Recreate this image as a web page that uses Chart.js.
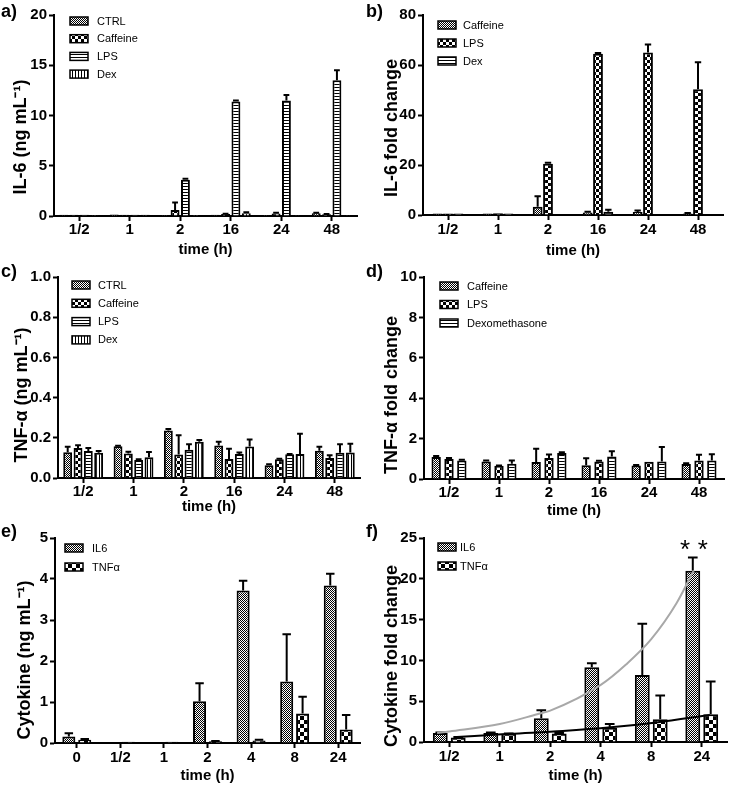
<!DOCTYPE html>
<html><head><meta charset="utf-8">
<script src="https://cdn.jsdelivr.net/npm/chart.js@4.4.0/dist/chart.umd.min.js"></script>
<style>
html,body{margin:0;padding:0;background:#fff;}
body{width:731px;height:785px;position:relative;overflow:hidden;}
canvas{position:absolute;}
</style></head><body>
<canvas id="ca" width="365" height="260" style="left:0px;top:0px"></canvas>
<canvas id="cb" width="366" height="260" style="left:365px;top:0px"></canvas>
<canvas id="cc" width="365" height="260" style="left:0px;top:260px"></canvas>
<canvas id="cd" width="366" height="260" style="left:365px;top:260px"></canvas>
<canvas id="ce" width="365" height="265" style="left:0px;top:520px"></canvas>
<canvas id="cf" width="366" height="265" style="left:365px;top:520px"></canvas>
<canvas id="cf2" width="366" height="265" style="left:365px;top:520px"></canvas>
<script>
const FONT = '"Liberation Sans", Arial, Helvetica, sans-serif';

// ---------- categories ----------
const catsABCD = ['1/2', '1', '2', '16', '24', '48'];
const catsE = ['0', '1/2', '1', '2', '4', '8', '24'];
const catsF = ['1/2', '1', '2', '4', '8', '24'];

// ---------- y tick labels ----------
const yTicksA = [0, 5, 10, 15, 20];
const yTicksB = [0, 20, 40, 60, 80];
const yTicksC = [0, 0.2, 0.4, 0.6, 0.8, 1.0];
const yTicksD = [0, 2, 4, 6, 8, 10];
const yTicksE = [0, 1, 2, 3, 4, 5];
const yTicksF = [0, 5, 10, 15, 20, 25];

// ---------- a) IL-6 (ng/mL) ----------
const aCtrl = [0.12, 0.14, 0.1, 0.12, 0.1, 0.28];
const aCtrlErr = [0, 0, 0, 0, 0, 0.05];
const aCaff = [0.12, 0.12, 0.6, 0.2, 0.25, 0.18];
const aCaffErr = [0, 0, 0.75, 0.03, 0.08, 0.02];
const aLps = [0.12, 0.12, 3.6, 11.4, 11.5, 13.5];
const aLpsErr = [0, 0, 0.1, 0.1, 0.55, 1.0];
const aDex = [0.1, 0.12, 0.1, 0.28, 0.08, 0.08];
const aDexErr = [0, 0, 0, 0.1, 0, 0];

// ---------- b) IL-6 fold change ----------
const bCaff = [0.6, 0.6, 3.3, 1.0, 1.2, 0.6];
const bCaffErr = [0, 0, 4.2, 0.3, 0.6, 0.2];
const bLps = [0.6, 0.7, 20.5, 64.5, 65.0, 50.3];
const bLpsErr = [0, 0, 0.4, 0.3, 3.2, 10.8];
const bDex = [0.6, 0.6, 0.3, 1.3, 0.3, 0.3];
const bDexErr = [0, 0, 0, 0.8, 0, 0];

// ---------- c) TNF-alpha (ng/mL) ----------
const cCtrl = [0.128, 0.158, 0.236, 0.162, 0.064, 0.135];
const cCtrlErr = [0.028, 0.002, 0.008, 0.018, 0.005, 0.02];
const cCaff = [0.149, 0.122, 0.117, 0.094, 0.093, 0.1];
const cCaffErr = [0.014, 0.008, 0.096, 0.052, 0.003, 0.013];
const cLps = [0.134, 0.09, 0.141, 0.12, 0.118, 0.126];
const cLpsErr = [0.015, 0.003, 0.027, 0.007, 0.002, 0.042];
const cDex = [0.126, 0.103, 0.18, 0.157, 0.12, 0.127];
const cDexErr = [0.008, 0.026, 0.009, 0.034, 0.1, 0.044];

// ---------- d) TNF-alpha fold change ----------
const dCaff = [1.09, 0.87, 0.84, 0.68, 0.67, 0.74];
const dCaffErr = [0.05, 0.04, 0.66, 0.35, 0.02, 0.04];
const dLps = [0.99, 0.65, 1.04, 0.87, 0.86, 0.92];
const dLpsErr = [0.05, 0.02, 0.17, 0.03, 0, 0.28];
const dDex = [0.92, 0.75, 1.29, 1.12, 0.87, 0.91];
const dDexErr = [0.03, 0.17, 0.04, 0.25, 0.71, 0.32];

// ---------- e) Cytokine (ng/mL) ----------
const eIL6 = [0.16, 0, 0, 1.02, 3.72, 1.5, 3.84];
const eIL6Err = [0.08, 0, 0, 0.44, 0.24, 1.15, 0.29];
const eTNF = [0.08, 0.03, 0.03, 0.04, 0.06, 0.72, 0.33];
const eTNFErr = [0.02, 0, 0, 0.01, 0.02, 0.41, 0.35];

// ---------- f) Cytokine fold change ----------
const fIL6 = [1.1, 1.1, 2.9, 9.15, 8.2, 21.0];
const fIL6Err = [0.05, 0.05, 1.0, 0.5, 6.3, 1.6];
const fTNF = [0.55, 1.0, 1.05, 1.75, 2.8, 3.4];
const fTNFErr = [0.05, 0.05, 0.05, 0.45, 2.9, 4.0];
// trend curves: [category position, value]
const fIL6Curve = [[-0.24, 1.1], [0, 1.3], [1, 2.2], [1.74, 3.4], [2, 3.85], [3, 7.0], [3.5, 9.5], [4, 12.6], [4.5, 17.0], [4.84, 21.0]];
const fTNFCurve = [[0.15, 0.6], [1.2, 1.0], [2.25, 1.35], [3.2, 1.8], [4.1, 2.4], [5.16, 3.3]];
const fStars = [[4.67, 24.4], [5.02, 24.4]];

// ---------- patterns ----------
function makePattern(kind) {
  const c = document.createElement('canvas');
  let g;
  if (kind === 'fine') {
    c.width = 2; c.height = 2; g = c.getContext('2d');
    g.fillStyle = '#fff'; g.fillRect(0, 0, 2, 2);
    g.fillStyle = '#000'; g.fillRect(0, 0, 1, 1); g.fillRect(1, 1, 1, 1);
  } else if (kind === 'coarse3' || kind === 'coarse4') {
    const s = kind === 'coarse3' ? 3 : 4;
    c.width = 2 * s; c.height = 2 * s; g = c.getContext('2d');
    g.fillStyle = '#fff'; g.fillRect(0, 0, 2 * s, 2 * s);
    g.fillStyle = '#000'; g.fillRect(0, 0, s, s); g.fillRect(s, s, s, s);
  } else if (kind === 'h') {
    c.width = 3; c.height = 3; g = c.getContext('2d');
    g.fillStyle = '#fff'; g.fillRect(0, 0, 3, 3);
    g.fillStyle = '#000'; g.fillRect(0, 0, 3, 1);
  } else {
    c.width = 3; c.height = 3; g = c.getContext('2d');
    g.fillStyle = '#fff'; g.fillRect(0, 0, 3, 3);
    g.fillStyle = '#000'; g.fillRect(0, 0, 1, 3);
  }
  return document.createElement('canvas').getContext('2d').createPattern(c, 'repeat');
}
const PAT = { fine: makePattern('fine'), c3: makePattern('coarse3'), c4: makePattern('coarse4'), h: makePattern('h'), v: makePattern('v') };

// ---------- plugins ----------
const errorBars = {
  id: 'errorBars',
  afterDatasetsDraw(chart) {
    const ctx = chart.ctx;
    chart.data.datasets.forEach((ds, i) => {
      if (!ds.errors) return;
      const meta = chart.getDatasetMeta(i);
      if (meta.hidden) return;
      const ys = chart.scales[meta.yAxisID];
      meta.data.forEach((el, j) => {
        const e = ds.errors[j];
        if (!e) return;
        const top = ys.getPixelForValue(ds.data[j] + e);
        const cw = Math.max(5, el.width * 0.65);
        ctx.save();
        ctx.strokeStyle = '#000'; ctx.lineWidth = 2; ctx.lineCap = 'butt';
        ctx.beginPath();
        ctx.moveTo(el.x, el.y); ctx.lineTo(el.x, top);
        ctx.moveTo(el.x - cw / 2, top); ctx.lineTo(el.x + cw / 2, top);
        ctx.stroke();
        ctx.restore();
      });
    });
  }
};

const boxLegend = {
  id: 'boxLegend',
  afterDraw(chart, args, o) {
    if (!o || !o.letter) return;
    const { ctx, chartArea } = chart;
    ctx.save();
    let k = 0;
    chart.data.datasets.forEach(ds => {
      if (ds.type !== 'bar') return;
      const y = chartArea.top + o.y + k * o.dy;
      const x = chartArea.left + o.x;
      ctx.fillStyle = ds.backgroundColor;
      ctx.fillRect(x, y - 4, 18, 8);
      ctx.strokeStyle = '#000'; ctx.lineWidth = 1.5;
      ctx.strokeRect(x, y - 4, 18, 8);
      ctx.fillStyle = '#000';
      ctx.font = '11px ' + FONT;
      ctx.textBaseline = 'middle'; ctx.textAlign = 'left';
      ctx.fillText(ds.label, x + o.tx, y + 0.5);
      k++;
    });
    // panel letter
    ctx.font = 'bold 18px ' + FONT;
    ctx.textBaseline = 'alphabetic';
    ctx.fillText(o.letter, 1, 17);
    // y-axis title
    ctx.translate(o.titleX, o.titleY);
    ctx.rotate(-Math.PI / 2);
    ctx.font = 'bold 18px ' + FONT;
    ctx.textAlign = 'center'; ctx.textBaseline = 'middle';
    ctx.fillText(o.title, 0, 0);
    ctx.restore();
  }
};

const stars = {
  id: 'stars',
  afterDraw(chart, args, o) {
    if (!o || !o.pts) return;
    const ctx = chart.ctx;
    const xs = chart.scales.x, ys = chart.scales.y;
    ctx.save();
    ctx.fillStyle = '#000';
    ctx.font = '26px ' + FONT;
    ctx.textAlign = 'center'; ctx.textBaseline = 'alphabetic';
    o.pts.forEach(p => {
      ctx.fillText('*', xs.getPixelForValue(p[0]), ys.getPixelForValue(p[1]) + 0.58 * 26);
    });
    ctx.restore();
  }
};

// ---------- builder ----------
function buildPanel(id, p) {
  const cv = document.getElementById(id);
  const L = parseFloat(cv.style.left), T = parseFloat(cv.style.top);
  const W = cv.width, H = cv.height;
  const datasets = p.series.map(s => ({
    type: 'bar', label: s.label, data: s.data, errors: s.err,
    backgroundColor: s.pat, borderColor: '#000', borderWidth: 2,
    categoryPercentage: p.catPct, barPercentage: p.barPct
  }));
  const scales = {
    x: {
      type: 'category', offset: true,
      grid: { display: true, drawOnChartArea: false, drawTicks: true, tickLength: 5, tickWidth: 2, tickColor: '#000', offset: false },
      border: { display: true, color: '#000', width: 2 },
      ticks: { color: '#000', font: { family: FONT, size: 15, weight: 'bold' }, padding: p.xTickPad, maxRotation: 0, autoSkip: false },
      title: { display: true, text: 'time (h)', color: '#000', font: { family: FONT, size: 15, weight: 'bold' }, padding: { top: 0, bottom: p.xTitlePad } },
      afterFit(s) { s.height = (T + H) - p.area.b; }
    },
    y: {
      type: 'linear', min: p.yTicks[0], max: p.yTicks[p.yTicks.length - 1],
      afterBuildTicks(s) { s.ticks = p.yTicks.map(v => ({ value: v })); },
      grid: { display: true, drawOnChartArea: false, drawTicks: true, tickLength: 5, tickWidth: 2, tickColor: '#000' },
      border: { display: true, color: '#000', width: 2 },
      ticks: { color: '#000', font: { family: FONT, size: 15, weight: 'bold' }, padding: 2, callback: p.yFmt || (v => String(v)) },
      title: { display: false },
      afterFit(s) { s.width = p.area.l - L; }
    }
  };
  return new Chart(cv, {
    type: 'bar',
    data: { labels: p.labels, datasets },
    options: {
      responsive: false, animation: false, devicePixelRatio: 1,
      layout: { padding: { left: 0, top: p.area.t - T, right: (L + W) - p.area.r, bottom: 0 } },
      scales,
      plugins: {
        legend: { display: false }, tooltip: { enabled: false },
        boxLegend: { x: p.leg.x, y: p.leg.y, dy: p.leg.dy, tx: p.leg.tx, letter: p.letter,
                     title: p.yTitle, titleX: p.yTitlePos[0] - L, titleY: p.yTitlePos[1] - T }
      }
    },
    plugins: [errorBars, boxLegend]
  });
}

buildPanel('ca', {
  labels: catsABCD, yTicks: yTicksA, yTitle: 'IL-6 (ng mL\u207B\u00B9)', yTitlePos: [21, 137], letter: 'a)',
  area: { l: 54, t: 15, r: 357, b: 216 }, catPct: 0.82, barPct: 0.86,
  leg: { x: 16, y: 6, dy: 17.7, tx: 27 }, xTitlePad: 1, xTickPad: 0,
  series: [
    { label: 'CTRL', data: aCtrl, err: aCtrlErr, pat: PAT.fine },
    { label: 'Caffeine', data: aCaff, err: aCaffErr, pat: PAT.c3 },
    { label: 'LPS', data: aLps, err: aLpsErr, pat: PAT.h },
    { label: 'Dex', data: aDex, err: aDexErr, pat: PAT.v }
  ]
});
buildPanel('cb', {
  labels: catsABCD, yTicks: yTicksB, yTitle: 'IL-6 fold change', yTitlePos: [392, 128], letter: 'b)',
  area: { l: 423, t: 15, r: 723, b: 215 }, catPct: 0.62, barPct: 0.95,
  leg: { x: 15, y: 10, dy: 18, tx: 25 }, xTitlePad: 0, xTickPad: 1,
  series: [
    { label: 'Caffeine', data: bCaff, err: bCaffErr, pat: PAT.fine },
    { label: 'LPS', data: bLps, err: bLpsErr, pat: PAT.c3 },
    { label: 'Dex', data: bDex, err: bDexErr, pat: PAT.h }
  ]
});
buildPanel('cc', {
  labels: catsABCD, yTicks: yTicksC, yTitle: 'TNF-\u03B1 (ng mL\u207B\u00B9)', yTitlePos: [22, 395], letter: 'c)', yFmt: v => v.toFixed(1),
  area: { l: 58, t: 277, r: 360, b: 478 }, catPct: 0.82, barPct: 0.86,
  leg: { x: 14, y: 8, dy: 18.3, tx: 26 }, xTitlePad: 4, xTickPad: 0,
  series: [
    { label: 'CTRL', data: cCtrl, err: cCtrlErr, pat: PAT.fine },
    { label: 'Caffeine', data: cCaff, err: cCaffErr, pat: PAT.c3 },
    { label: 'LPS', data: cLps, err: cLpsErr, pat: PAT.h },
    { label: 'Dex', data: cDex, err: cDexErr, pat: PAT.v }
  ]
});
buildPanel('cd', {
  labels: catsABCD, yTicks: yTicksD, yTitle: 'TNF-\u03B1 fold change', yTitlePos: [392, 395], letter: 'd)',
  area: { l: 424, t: 277, r: 724, b: 479 }, catPct: 0.77, barPct: 0.73,
  leg: { x: 16, y: 9, dy: 18.5, tx: 27 }, xTitlePad: 0, xTickPad: 0,
  series: [
    { label: 'Caffeine', data: dCaff, err: dCaffErr, pat: PAT.fine },
    { label: 'LPS', data: dLps, err: dLpsErr, pat: PAT.c3 },
    { label: 'Dexomethasone', data: dDex, err: dDexErr, pat: PAT.h }
  ]
});
buildPanel('ce', {
  labels: catsE, yTicks: yTicksE, yTitle: 'Cytokine (ng mL\u207B\u00B9)', yTitlePos: [25, 660], letter: 'e)',
  area: { l: 55, t: 538, r: 360, b: 743 }, catPct: 0.73, barPct: 0.82,
  leg: { x: 10, y: 10, dy: 19, tx: 27 }, xTitlePad: 0, xTickPad: 1,
  series: [
    { label: 'IL6', data: eIL6, err: eIL6Err, pat: PAT.fine },
    { label: 'TNF\u03B1', data: eTNF, err: eTNFErr, pat: PAT.c4 }
  ]
});
const areaF = { l: 424, t: 538, r: 727, b: 742 };
buildPanel('cf', {
  labels: catsF, yTicks: yTicksF, yTitle: 'Cytokine fold change', yTitlePos: [392, 656], letter: 'f)',
  area: areaF, catPct: 0.71, barPct: 0.83,
  leg: { x: 14, y: 9, dy: 19, tx: 22 }, xTitlePad: 0, xTickPad: 1,
  series: [
    { label: 'IL6', data: fIL6, err: fIL6Err, pat: PAT.fine },
    { label: 'TNF\u03B1', data: fTNF, err: fTNFErr, pat: PAT.c4 }
  ]
});

// overlay for the fitted trend lines of panel f (same plot area, category positions as x)
(function () {
  const cv = document.getElementById('cf2');
  const L = parseFloat(cv.style.left), T = parseFloat(cv.style.top);
  new Chart(cv, {
    type: 'line',
    data: {
      datasets: [
        { label: 'IL6 fit', data: fIL6Curve.map(p => ({ x: p[0], y: p[1] })), borderColor: '#a8a8a8', borderWidth: 2, pointRadius: 0, fill: false, cubicInterpolationMode: 'monotone' },
        { label: 'TNF\u03B1 fit', data: fTNFCurve.map(p => ({ x: p[0], y: p[1] })), borderColor: '#000', borderWidth: 2, pointRadius: 0, fill: false, cubicInterpolationMode: 'monotone' }
      ]
    },
    options: {
      responsive: false, animation: false, devicePixelRatio: 1,
      layout: { padding: { left: areaF.l - L, top: areaF.t - T, right: (L + cv.width) - areaF.r, bottom: (T + cv.height) - areaF.b } },
      scales: {
        x: { type: 'linear', display: false, min: -0.5, max: catsF.length - 0.5 },
        y: { type: 'linear', display: false, min: yTicksF[0], max: yTicksF[yTicksF.length - 1] }
      },
      plugins: { legend: { display: false }, tooltip: { enabled: false }, stars: { pts: fStars } }
    },
    plugins: [stars]
  });
})();
</script>
</body></html>
